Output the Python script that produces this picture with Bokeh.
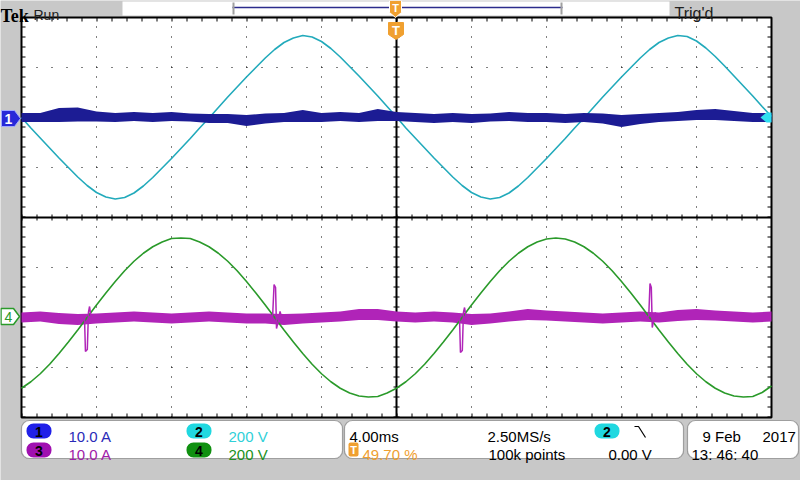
import numpy as np
from bokeh.plotting import figure
from bokeh.models import Range1d, BoxAnnotation, Label
from bokeh.embed import file_html
from bokeh.resources import INLINE

t_fine = [-20 + 0.5 * i for i in range(81)]   # ms, 4 ms/div, trigger at centre
t_ms = list(range(-20, 21))                   # ms, coarse grid for the noise bands

# CH2 (cyan), volts, 200 V/div, every 0.5 ms
ch2_volts = [0, -42, -82, -122, -162, -200, -238, -272, -300, -318, -326,
             -320, -302, -274, -240, -202, -164, -124, -84, -42, -2,
             40, 82, 122, 162, 200, 238, 272, 300, 318, 328,
             322, 304, 276, 242, 204, 166, 126, 86, 44, 2,
             -42, -82, -122, -162, -200, -238, -272, -300, -318, -326,
             -320, -302, -274, -240, -202, -164, -124, -84, -42, -2,
             40, 82, 122, 162, 200, 238, 272, 300, 318, 328,
             324, 306, 278, 244, 206, 166, 126, 86, 44, 4]

# CH4 (green), volts, 200 V/div, every 0.5 ms
ch4_volts = [-283, -257, -225, -187, -144, -98, -50, 0, 50, 98,
             144, 187, 225, 257, 283, 302, 316, 318, 316, 302,
             283, 257, 225, 187, 144, 98, 50, 0, -50, -98,
             -144, -187, -225, -257, -283, -302, -314, -318, -316, -302,
             -283, -257, -225, -187, -144, -98, -50, 0, 50, 98,
             144, 187, 225, 257, 283, 302, 314, 318, 314, 302,
             283, 257, 225, 187, 144, 98, 50, 0, -50, -98,
             -144, -187, -225, -257, -283, -302, -314, -318, -316, -300, -274]

# CH1 (dark blue), amps, 10 A/div : band centre and half thickness, every 1 ms
ch1_amps = [0.0, 0.0, 0.5, 0.6, 0.2, 0.0, 0.2, 0.0, 0.2, 0.0,
            -0.2, -0.2, -0.6, -0.2, 0.0, 0.3, 0.0, 0.2, 0.0, 0.5,
            0.2, 0.0, -0.2, 0.0, -0.2, 0.0, 0.2, 0.0, 0.0, -0.2,
            0.0, -0.2, -0.7, -0.3, 0.0, 0.2, 0.5, 0.6, 0.3, 0.0, 0.0]
ch1_half = [0.9, 0.9, 1.4, 1.4, 1.0, 0.9, 0.9, 0.9, 0.9, 0.8,
            0.9, 0.9, 1.1, 1.0, 0.9, 1.2, 0.9, 0.9, 0.9, 1.2,
            0.9, 0.9, 0.9, 0.9, 0.9, 0.8, 0.9, 0.9, 0.9, 0.9,
            0.9, 1.0, 1.2, 1.0, 0.9, 0.9, 1.0, 1.1, 1.0, 0.9, 0.9]

# CH3 (magenta), amps, 10 A/div : band centre and half thickness, every 1 ms
ch3_amps = [0.0, 0.2, -0.2, -0.4, -0.2, 0.0, 0.2, 0.0, -0.2, 0.0,
            0.2, 0.0, -0.2, -0.2, -0.4, -0.2, 0.0, 0.2, 0.6, 0.6,
            0.2, 0.0, 0.2, 0.0, -0.4, -0.2, 0.2, 0.6, 0.4, 0.2,
            0.0, -0.2, 0.0, 0.2, 0.0, 0.4, 0.6, 0.4, 0.2, 0.0, 0.2]
ch3_half = [1.0, 1.0, 1.1, 1.1, 1.0, 1.0, 1.0, 1.0, 1.0, 1.0,
            1.0, 1.0, 1.0, 1.0, 1.1, 1.0, 1.0, 1.0, 1.1, 1.1,
            1.0, 1.0, 1.0, 1.0, 1.1, 1.0, 1.0, 1.1, 1.0, 1.0,
            1.0, 1.0, 1.0, 1.0, 1.0, 1.1, 1.1, 1.0, 1.0, 1.0, 1.0]

# CH3 switching spikes (ms, amps)
spike_t = [[-16.64, -16.59, -16.49, -16.43, -16.37, -16.29],
           [-6.61, -6.53, -6.45, -6.40, -6.29, -6.21, -6.13],
           [3.36, 3.41, 3.51, 3.57, 3.63, 3.71],
           [13.45, 13.52, 13.59, 13.64, 13.72, 13.80, 13.88]]
spike_amps = [[0.0, -6.8, -6.4, 1.0, 2.2, 0.0],
              [0.0, 6.6, 6.0, -2.2, -0.5, 1.2, 0.0],
              [0.0, -7.0, -6.6, 1.0, 2.0, 0.0],
              [0.0, 6.8, 6.0, -2.0, -0.4, 1.0, 0.0]]

# channel settings: (units per div, vertical position in div)
ch_scale = {"ch1": 10.0, "ch2": 200.0, "ch3": 10.0, "ch4": 200.0}
ch_pos = {"ch1": 2.0, "ch2": 2.0, "ch3": -2.0, "ch4": -2.0}

# ---------------- layout (canvas pixels) ----------------
W, H = 800, 480
GL, GR, GT, GB = 21, 771, 17, 417
px_per_ms = (GR - GL) / 40.0
px_per_div = (GB - GT) / 8.0


def X(px):
    return -20 + (px - GL) / px_per_ms


def Y(py):
    return 4 - (py - GT) / px_per_div


FONT = "Liberation Sans"
GRAY = "#c8c8c8"
C_BLUE = "#1c1c94"
C_CYAN = "#22aabb"
C_MAG = "#b024b8"
C_GREEN = "#2a9a2a"
C_ORANGE = "#f0a030"

ylo, yhi = Y(H), Y(0)
p = figure(width=W, height=H, x_range=Range1d(X(0), X(W)), y_range=Range1d(ylo, yhi),
           output_backend="svg", toolbar_location=None, min_border=0,
           x_axis_location=None, y_axis_location=None)
p.xgrid.visible = False
p.ygrid.visible = False
p.outline_line_color = None
p.background_fill_color = GRAY
p.border_fill_color = GRAY
p.extra_y_ranges = {k: Range1d((ylo - ch_pos[k]) * ch_scale[k], (yhi - ch_pos[k]) * ch_scale[k])
                    for k in ch_scale}

# graticule
p.quad(left=-20, right=20, bottom=-4, top=4, fill_color="white", line_color=None)
gx = [-20 + 4 * i for i in range(1, 10) if i != 5]
gy = [-4 + i for i in range(1, 8) if i != 4]
p.multi_line(xs=[[x, x] for x in gx], ys=[[-4, 4] for _ in gx],
             line_color="black", line_width=1, line_dash="1 9")
p.multi_line(xs=[[-20, 20] for _ in gy], ys=[[y, y] for y in gy],
             line_color="black", line_width=1, line_dash="1 14")
# centre cross with minor ticks
p.line([0, 0], [-4, 4], line_color="black", line_width=2)
p.line([-20, 20], [0, 0], line_color="black", line_width=2)
p.line([0, 0], [-4, 4], line_color="black", line_width=6, line_dash="1 9")
p.line([-20, 20], [0, 0], line_color="black", line_width=6, line_dash="1 14")
# border ticks
p.line([-20, 20], [Y(GT + 2), Y(GT + 2)], line_color="black", line_width=4, line_dash="1 14")
p.line([-20, 20], [Y(GB - 2), Y(GB - 2)], line_color="black", line_width=4, line_dash="1 14")
p.line([X(GL + 2), X(GL + 2)], [-4, 4], line_color="black", line_width=4, line_dash="1 9")
p.line([X(GR - 2), X(GR - 2)], [-4, 4], line_color="black", line_width=4, line_dash="1 9")
p.quad(left=-20, right=20, bottom=-4, top=4, fill_color=None, line_color="black", line_width=2)

# ---------------- traces ----------------
tf = np.array(t_fine, dtype=float)
t = np.array(t_ms, dtype=float)
p.line(tf, ch2_volts, line_color=C_CYAN, line_width=1.6, y_range_name="ch2")
c1 = np.array(ch1_amps); h1 = np.array(ch1_half)
p.varea(x=t, y1=c1 - h1, y2=c1 + h1, fill_color=C_BLUE, y_range_name="ch1")
c3 = np.array(ch3_amps); h3 = np.array(ch3_half)
p.varea(x=t, y1=c3 - h3, y2=c3 + h3, fill_color=C_MAG, y_range_name="ch3")
p.line(tf, ch4_volts, line_color=C_GREEN, line_width=1.6, y_range_name="ch4")
p.multi_line(xs=spike_t, ys=spike_amps, line_color=C_MAG, line_width=1.5, y_range_name="ch3")


def lab(px, py, text, color="black", size="15px", style="normal", font=FONT, align="left", base="alphabetic"):
    p.add_layout(Label(x=X(px), y=Y(py), text=text, text_color=color, text_font=font,
                       text_font_size=size, text_font_style=style, text_align=align,
                       text_baseline=base))


def box(l, r, tp, b, fill, line=None, radius=0, lw=1.0):
    p.add_layout(BoxAnnotation(left=X(l), right=X(r), top=Y(tp), bottom=Y(b), fill_color=fill,
                               fill_alpha=1.0, line_color=line, line_width=lw, border_radius=radius,
                               level="underlay"))


# ---------------- top bar ----------------
lab(0, 15, "Tek", size="18px", style="bold", font="Liberation Serif")
lab(33, 14, "Run", color="#202020", size="14px")
lab(674, 13, "Trig'd", color="#202020", size="16px")
box(122, 669, 1, 15, "white")
p.line([X(232), X(562)], [Y(7), Y(7)], line_color="#2c2c8c", line_width=1.5)
p.multi_line(xs=[[X(233), X(233)], [X(561), X(561)]], ys=[[Y(2), Y(14)], [Y(2), Y(14)]],
             line_color="#a0a0a0", line_width=2)
# trigger position markers
p.patch([X(389), X(401), X(401), X(395), X(389)], [Y(0), Y(0), Y(12), Y(17), Y(12)],
        fill_color=C_ORANGE, line_color="white", line_width=1)
lab(395, 7, "T", color="white", size="11px", style="bold", align="center", base="middle")
p.patch([X(388), X(403), X(403), X(395.5), X(388)], [Y(22), Y(22), Y(34), Y(39), Y(34)],
        fill_color=C_ORANGE, line_color=C_ORANGE, line_width=1)
lab(395.5, 30, "T", color="white", size="13px", style="bold", align="center", base="middle")

# channel markers
p.patch([X(1), X(14), X(20), X(14), X(1)], [Y(110), Y(110), Y(118), Y(126), Y(126)],
        fill_color="#2828d8", line_color="#a0a8ff", line_width=1)
lab(8, 118.5, "1", color="white", size="14px", style="bold", align="center", base="middle")
p.patch([X(0.5), X(13), X(19), X(13), X(0.5)], [Y(308), Y(308), Y(316), Y(324), Y(324)],
        fill_color="white", line_color=C_GREEN, line_width=1.5)
lab(8, 316.5, "4", color=C_GREEN, size="14px", align="center", base="middle")
# trigger level arrow (ch2)
p.patch([X(760), X(766), X(771), X(771), X(766)], [Y(117), Y(112), Y(112), Y(122), Y(122)],
        fill_color="#30e0f0", line_color=None)

# ---------------- bottom readout ----------------
box(21, 342, 420, 458, "white", "black", 8, 1.2)
box(344, 683, 420, 458, "white", "black", 8, 1.2)
box(687, 798, 420, 458, "white", "black", 8, 1.2)

pills = [(26, 51, 423, 438, "#2020e8", "1"), (26, 51, 442, 457, "#a010b0", "3"),
         (186, 211, 423, 438, "#20d8e0", "2"), (186, 211, 442, 457, "#109010", "4"),
         (594, 619, 423, 438, "#20d8e0", "2")]
for l, r, tp, b, col, txt in pills:
    box(l, r, tp, b, col, None, 7)
    lab((l + r) / 2, (tp + b) / 2 + 0.5, txt, color="black", size="14px", style="bold",
        align="center", base="middle")

lab(68, 436, "10.0 A", color="#2a2ab8")
lab(68, 454, "10.0 A", color="#a020a8")
lab(228, 436, "200 V", color="#30d0d8")
lab(228, 454, "200 V", color="#209020")

lab(349, 436, "4.00ms")
box(348, 358, 442, 456, C_ORANGE, None, 2)
lab(353, 449.5, "T", color="white", size="11px", style="bold", align="center", base="middle")
lab(362, 454, "49.70 %", color=C_ORANGE)
lab(487, 436, "2.50MS/s")
lab(488, 454, "100k points")
p.line([X(634), X(638), X(645)], [Y(426), Y(426), Y(437)], line_color="black", line_width=1.2)
lab(608, 454, "0.00 V")

lab(702, 436, "9 Feb")
lab(762, 436, "2017")
lab(691, 454, "13: 46: 40")

open("out.html", "w").write(file_html(p, INLINE))
